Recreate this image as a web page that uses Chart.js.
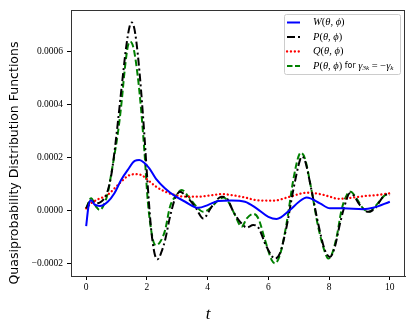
<!DOCTYPE html>
<html>
<head>
<meta charset="utf-8">
<script src="https://cdn.jsdelivr.net/npm/chart.js@4/dist/chart.umd.min.js"></script>
<style>
  body { margin: 0; background: #fff; }
  #wrap { width: 415px; height: 327px; }
</style>
</head>
<body>
<div id="wrap"><canvas id="myChart" width="415" height="327"></canvas></div>
<script>
// ---------------- 데이터 ---------------- //
const xTicks = [0, 2, 4, 6, 8, 10];
const yTicks = [-0.0002, 0, 0.0002, 0.0004, 0.0006];

// W(θ,ϕ) - 파랑 실선
const tW = [0, 0.08, 0.16, 0.27, 0.45, 0.71, 0.93, 1.15, 1.37, 1.6, 1.75, 1.9, 2.08, 2.3, 2.6, 2.93, 3.26, 3.69, 4.02, 4.35,
            4.79, 5.23, 5.61, 6.0, 6.27, 6.71, 7.0, 7.26, 7.7, 8.03, 8.46, 9.12, 9.45, 10];
const W  = [-5.8e-5, 2.0e-5, 4.0e-5, 2.4e-5, 1.8e-5, 3.4e-5, 6.6e-5, 11.6e-5, 15.4e-5, 18.8e-5, 19.1e-5, 18.2e-5, 16.0e-5, 12.0e-5, 8.4e-5, 5.5e-5, 3.4e-5, 1.1e-5, 2.2e-5, 3.7e-5,
            3.9e-5, 3.4e-5, 0.9e-5, -2.3e-5, -3.1e-5, 0.3e-5, 3.3e-5, 5.0e-5, 2.8e-5, 0.9e-5, 0.9e-5, 0.6e-5, 1.1e-5, 3.4e-5];

// P(θ,ϕ) - 검정 일점쇄선
const tP = [0, 0.14, 0.33, 0.49, 0.66, 0.82, 0.93, 1.04, 1.2, 1.32, 1.43, 1.5, 1.59, 1.7, 1.81, 1.92, 2.03, 2.14, 2.25, 2.35,
            2.48, 2.6, 2.76, 2.93, 3.09, 3.26, 3.59, 3.86, 4.13, 4.46, 4.63, 4.85, 5.07, 5.29, 5.5, 5.65, 5.94, 6.22, 6.38, 6.6,
            6.82, 7.04, 7.1, 7.2, 7.42, 7.64, 7.86, 8.03, 8.19, 8.36, 8.52, 8.68, 8.8, 9.01, 9.29, 9.51, 9.78, 9.95, 10];
const P  = [0.9e-5, 3.7e-5, 2.8e-5, 3.4e-5, 5.9e-5, 13e-5, 22e-5, 33e-5, 50e-5, 62e-5, 69.5e-5, 71e-5, 68.5e-5, 59e-5, 45e-5, 28e-5, 9e-5, -7e-5, -16e-5, -18.3e-5,
            -15.5e-5, -11e-5, -2.3e-5, 4.7e-5, 7.2e-5, 5.9e-5, 1.5e-5, -2.9e-5, 1.5e-5, 5.3e-5, 4.7e-5, -0.4e-5, -4.2e-5, -6.3e-5, -5.4e-5, -6e-5, -13.6e-5, -18e-5, -16.1e-5, -6e-5,
            7.8e-5, 19.1e-5, 20.4e-5, 19.1e-5, 7.8e-5, -4.8e-5, -14.8e-5, -17.4e-5, -13.6e-5, -4.8e-5, 2.2e-5, 6.6e-5, 5.9e-5, 2.2e-5, -0.4e-5, 0.9e-5, 5.3e-5, 6.3e-5, 5.9e-5];

// Q(θ,ϕ) - 빨강 점선
const tQ = [0, 0.16, 0.38, 0.6, 0.77, 0.93, 1.15, 1.37, 1.59, 1.81, 2.03, 2.3, 2.6, 2.93, 3.26, 3.69, 4.1, 4.46, 4.85, 5.23,
            5.61, 6.16, 6.71, 7.26, 7.7, 8.03, 8.3, 8.58, 9.12, 9.56, 10];
const Q  = [0.9e-5, 2.8e-5, 4.3e-5, 5.3e-5, 6.6e-5, 8.4e-5, 10.9e-5, 13.1e-5, 13.8e-5, 13.5e-5, 11.6e-5, 9.1e-5, 7.2e-5, 5.9e-5, 5.3e-5, 5.3e-5, 5.8e-5, 6.3e-5, 5.8e-5, 5.0e-5,
            4.0e-5, 3.8e-5, 5.3e-5, 6.8e-5, 6.3e-5, 5.3e-5, 4.5e-5, 4.7e-5, 5.5e-5, 5.9e-5, 6.6e-5];

// P(θ,ϕ) for γ3k = -γk - 초록 파선
const tG = [0, 0.16, 0.33, 0.44, 0.55, 0.71, 0.82, 0.93, 1.04, 1.15, 1.28, 1.37, 1.45, 1.56, 1.7, 1.81, 1.92, 2.03, 2.19, 2.3,
            2.45, 2.6, 2.76, 2.93, 3.15, 3.37, 3.64, 3.86, 4.08, 4.35, 4.52, 4.68, 4.9, 5.12, 5.29, 5.5, 5.67, 5.89, 6.11, 6.22,
            6.38, 6.6, 6.82, 6.99, 7.07, 7.2, 7.42, 7.64, 7.86, 7.97, 8.08, 8.25, 8.41, 8.58, 8.71, 8.9, 9.12, 9.32, 9.56, 9.84, 10];
const G  = [0.9e-5, 4.7e-5, 1.5e-5, 0.3e-5, 1.5e-5, 6.6e-5, 13.5e-5, 21e-5, 29e-5, 39.2e-5, 54.3e-5, 61.9e-5, 63.8e-5, 61.3e-5, 50.6e-5, 38e-5, 22e-5, 3.5e-5, -10.5e-5, -13e-5,
            -11.5e-5, -7.3e-5, 1.5e-5, 5.3e-5, 7.8e-5, 5.3e-5, 1.5e-5, -0.4e-5, 0.9e-5, 4.0e-5, 5.0e-5, 3.4e-5, -1.6e-5, -6e-5, -2.9e-5, -1.2e-5, -2.9e-5, -11e-5, -18.6e-5, -19.8e-5,
            -16.7e-5, -4.8e-5, 11.6e-5, 20.4e-5, 21.9e-5, 19.8e-5, 7.8e-5, -6e-5, -15.5e-5, -18e-5, -16.7e-5, -9.8e-5, 0.3e-5, 5.9e-5, 7.2e-5, 4.7e-5, 0.9e-5, -0.4e-5, 2.2e-5, 5.9e-5, 6.6e-5];

const toXY = (ts, vs) => ts.map((t, i) => ({ x: t, y: vs[i] }));

const serif = '"Liberation Serif", "DejaVu Serif", serif';
const sans = '"DejaVu Sans", "Noto Sans", sans-serif';

// 범례 항목 (선 스타일)
const legendItems = [
  { color: '#0000ff', dash: [], cap: 'butt', width: 2 },
  { color: '#000000', dash: [8, 3, 2, 3], cap: 'butt', width: 2 },
  { color: '#ff0000', dash: [0.1, 3.8], cap: 'round', width: 2.3 },
  { color: '#008000', dash: [5.5, 2.5], cap: 'butt', width: 2 }
];

// 글자 조각 그리기 [텍스트, 폰트, y오프셋]
function drawRuns(ctx, x, y, runs) {
  runs.forEach(r => {
    ctx.font = r[1];
    ctx.fillText(r[0], x, y + (r[2] || 0));
    x += ctx.measureText(r[0]).width;
  });
}

const deco = {
  id: 'deco',
  afterDraw(chart) {
    const ctx = chart.ctx;
    const a = chart.chartArea;
    ctx.save();
    // 축 테두리
    ctx.strokeStyle = '#333';
    ctx.lineWidth = 1;
    ctx.setLineDash([]);
    ctx.strokeRect(Math.round(a.left) + 0.5, Math.round(a.top) + 0.5, Math.round(a.right - a.left) - 1, Math.round(a.bottom - a.top));

    // 범례 박스
    ctx.fillStyle = 'rgba(255,255,255,0.85)';
    ctx.strokeStyle = '#cccccc';
    ctx.beginPath();
    ctx.roundRect(284.5, 14.5, 116, 60, 2);
    ctx.fill();
    ctx.stroke();

    const it = 'italic 10.5px ' + serif;
    const rm = '10.5px ' + serif;
    const sub = 'italic 7px ' + serif;
    const texts = [
      [['W', it], ['(', rm], ['θ', it], [', ', rm], ['ϕ', it], [')', rm]],
      [['P', it], ['(', rm], ['θ', it], [', ', rm], ['ϕ', it], [')', rm]],
      [['Q', it], ['(', rm], ['θ', it], [', ', rm], ['ϕ', it], [')', rm]],
      [['P', it], ['(', rm], ['θ', it], [', ', rm], ['ϕ', it], [')', rm], [' for ', '8px ' + sans], ['γ', it], ['3k', sub, 2],
       [' = −', rm], ['γ', it], ['k', sub, 2]]
    ];
    legendItems.forEach((o, i) => {
      const y = 22.5 + i * 14.5;
      ctx.strokeStyle = o.color;
      ctx.lineWidth = o.width;
      ctx.lineCap = o.cap;
      ctx.setLineDash(o.dash);
      ctx.beginPath();
      ctx.moveTo(287, y);
      ctx.lineTo(300, y);
      ctx.stroke();
      ctx.setLineDash([]);
      ctx.fillStyle = '#000';
      ctx.textBaseline = 'middle';
      drawRuns(ctx, 313, y, texts[i]);
    });

    // y축 제목
    ctx.fillStyle = '#000';
    ctx.textAlign = 'center';
    ctx.textBaseline = 'middle';
    ctx.font = '12.5px ' + sans;
    const label = 'Quasiprobability Distribution Functions';
    const w = ctx.measureText(label).width;
    const fs = 12.5 * 243 / w;
    ctx.font = fs.toFixed(2) + 'px ' + sans;
    ctx.translate(15, 163);
    ctx.rotate(-Math.PI / 2);
    ctx.fillText(label, 0, 0);
    ctx.restore();

    // x축 제목
    ctx.save();
    ctx.fillStyle = '#000';
    ctx.textAlign = 'center';
    ctx.textBaseline = 'middle';
    ctx.font = 'italic 17px ' + serif;
    ctx.fillText('t', 208, 315);
    ctx.restore();
  }
};

new Chart(document.getElementById('myChart'), {
  type: 'line',
  data: {
    datasets: [
      { label: 'W', data: toXY(tW, W), borderColor: legendItems[0].color, borderWidth: 2, borderDash: [] },
      { label: 'P', data: toXY(tP, P), borderColor: legendItems[1].color, borderWidth: 2, borderDash: legendItems[1].dash },
      { label: 'Q', data: toXY(tQ, Q), borderColor: legendItems[2].color, borderWidth: 2.3, borderDash: legendItems[2].dash, borderCapStyle: 'round' },
      { label: 'P3k', data: toXY(tG, G), borderColor: legendItems[3].color, borderWidth: 2, borderDash: [6.5, 3] }
    ]
  },
  options: {
    responsive: false,
    animation: false,
    parsing: true,
    layout: { padding: { top: 10, right: 10, left: 0, bottom: 0 } },
    elements: {
      point: { radius: 0 },
      line: { cubicInterpolationMode: 'monotone', fill: false }
    },
    plugins: { legend: { display: false }, tooltip: { enabled: false } },
    scales: {
      x: {
        type: 'linear',
        min: -0.5,
        max: 10.5,
        afterBuildTicks: s => { s.ticks = xTicks.map(v => ({ value: v })); },
        afterFit: s => { s.height = 51; },
        grid: { drawOnChartArea: false, drawTicks: true, tickLength: 4, color: '#000' },
        border: { display: true, color: '#333' },
        ticks: { color: '#000', padding: 2, font: { family: serif, size: 9.5 }, maxRotation: 0 }
      },
      y: {
        type: 'linear',
        min: -0.000246,
        max: 0.000757,
        afterBuildTicks: s => { s.ticks = yTicks.map(v => ({ value: v })); },
        afterFit: s => { s.width = 71; },
        grid: { drawOnChartArea: false, drawTicks: true, tickLength: 4, color: '#000' },
        border: { display: true, color: '#333' },
        ticks: {
          color: '#000', padding: 4, font: { family: serif, size: 9.5 },
          callback: v => (v < 0 ? '−' : '') + Math.abs(v).toFixed(4)
        }
      }
    }
  },
  plugins: [deco]
});
</script>
</body>
</html>
